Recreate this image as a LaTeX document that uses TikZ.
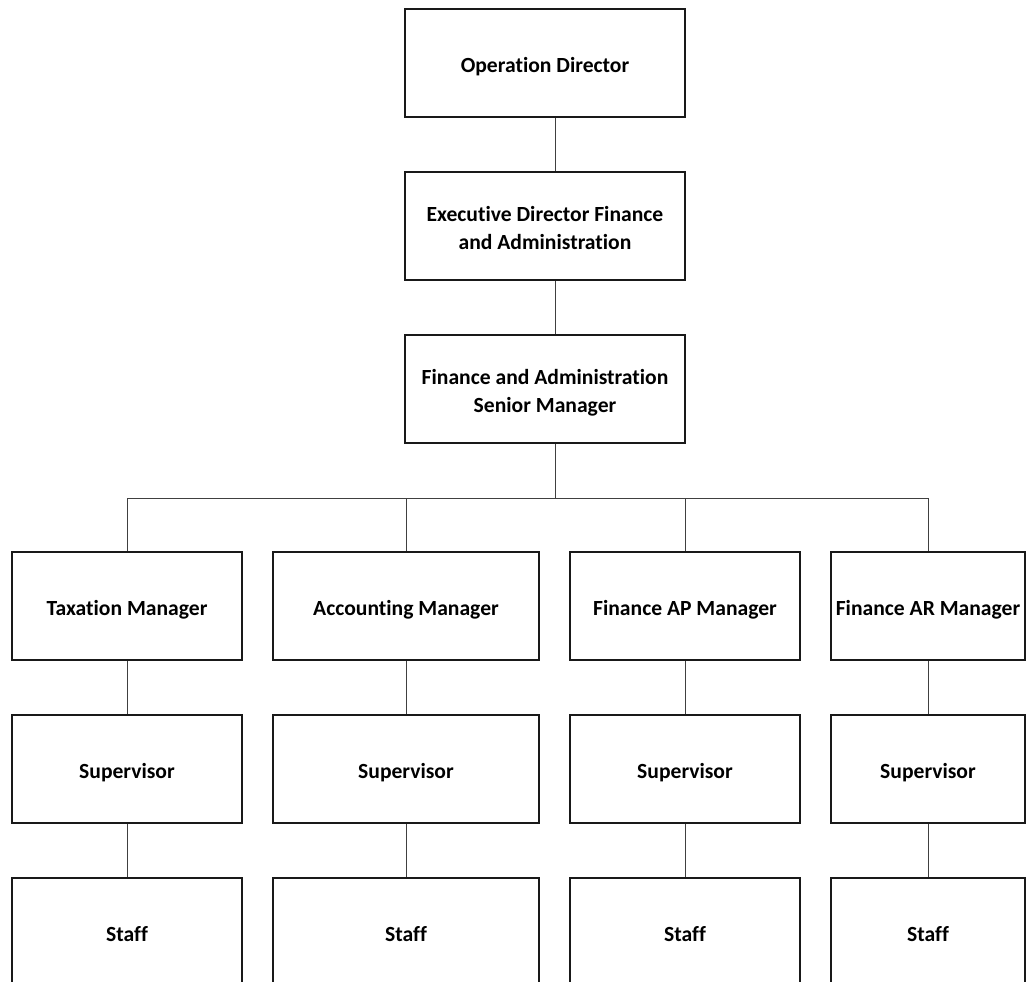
\documentclass[tikz,border=0pt]{standalone}
\usepackage{fontspec}
\setmainfont{Carlito}[Ligatures={NoCommon}]
\newcommand{\boxtext}[1]{\raisebox{-3pt}[\height][\depth]{\begin{tabular}{@{}c@{}}#1\end{tabular}}}
\begin{document}
\begin{tikzpicture}[x=0.75pt,y=-0.75pt,
  box/.style={draw=black!90,line width=1.5pt,fill=white,minimum height=81pt,
    inner sep=0pt,font=\fontsize{16.2}{21}\selectfont\bfseries},
  conn/.style={draw=black!75,line width=0.75pt}]
\useasboundingbox (0,0) rectangle (1026,982);
\node[box,minimum width=210pt] (od) at (545,63) {\boxtext{Operation Director}};
\node[box,minimum width=210pt] (ed) at (545,226) {\boxtext{Executive Director Finance\\and Administration}};
\node[box,minimum width=210pt] (fsm) at (545,389) {\boxtext{Finance and Administration\\Senior Manager}};
\node[box,minimum width=172.5pt] (tax) at (127,606) {\boxtext{Taxation Manager}};
\node[box,minimum width=199.5pt] (acc) at (406,606) {\boxtext{Accounting Manager}};
\node[box,minimum width=172.5pt] (ap) at (685,606) {\boxtext{Finance AP Manager}};
\node[box,minimum width=145.5pt] (ar) at (928,606) {\boxtext{Finance AR Manager}};
\node[box,minimum width=172.5pt] (tax2) at (127,769) {\boxtext{Supervisor}};
\node[box,minimum width=199.5pt] (acc2) at (406,769) {\boxtext{Supervisor}};
\node[box,minimum width=172.5pt] (ap2) at (685,769) {\boxtext{Supervisor}};
\node[box,minimum width=145.5pt] (ar2) at (928,769) {\boxtext{Supervisor}};
\node[box,minimum width=172.5pt] (tax3) at (127,932) {\boxtext{Staff}};
\node[box,minimum width=199.5pt] (acc3) at (406,932) {\boxtext{Staff}};
\node[box,minimum width=172.5pt] (ap3) at (685,932) {\boxtext{Staff}};
\node[box,minimum width=145.5pt] (ar3) at (928,932) {\boxtext{Staff}};
\coordinate (bus) at (555,498);
\draw[conn] (od.south -| bus) -- (ed.north -| bus);
\draw[conn] (ed.south -| bus) -- (fsm.north -| bus);
\draw[conn] (fsm.south -| bus) -- (bus);
\draw[conn] (tax.north) |- (bus);
\draw[conn] (bus) -| (ar.north);
\draw[conn] (acc.north) -- (acc.north |- bus);
\draw[conn] (ap.north) -- (ap.north |- bus);
\foreach \n in {tax,acc,ap,ar}{
  \draw[conn] (\n) -- (\n2);
  \draw[conn] (\n2) -- (\n3);
}
\end{tikzpicture}
\end{document}
